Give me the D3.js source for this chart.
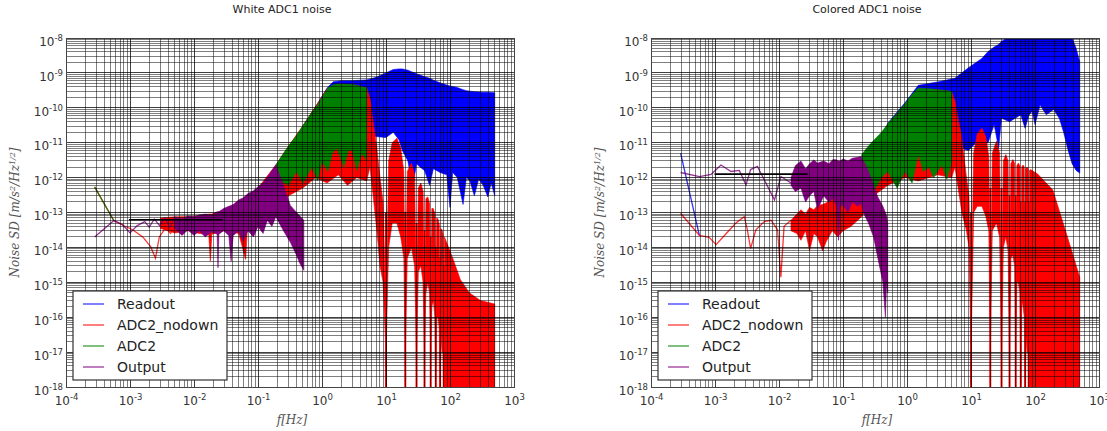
<html>
<head>
<meta charset="utf-8">
<title>ADC1 noise</title>
<style>
body { margin: 0; background: #fff; }
</style>
</head>
<body>
<script src="https://cdn.jsdelivr.net/npm/d3@7"></script>
<script>
var width = 1107, height = 431;

var titles = ["White ADC1 noise", "Colored ADC1 noise"];
var legendNames = ["Readout", "ADC2_nodown", "ADC2", "Output"];
var colors = ["blue", "red", "green", "purple"];
var xTicks = [1e-4, 1e-3, 1e-2, 1e-1, 1e0, 1e1, 1e2, 1e3];
var yTicks = [1e-18, 1e-17, 1e-16, 1e-15, 1e-14, 1e-13, 1e-12, 1e-11, 1e-10, 1e-9, 1e-8];

// ---- White ADC1 noise ----  band rows: [f, upper, lower]
var whiteReadoutBand = [
  [0.5, 3.0e-11, 1.0e-12], [0.8, 1.1e-10, 2.0e-12], [1.2, 3.7e-10, 4.0e-12],
  [1.5, 5.6e-10, 6.0e-12], [2.0, 6.0e-10, 8.0e-12], [3.0, 6.0e-10, 1.0e-11],
  [5.0, 6.3e-10, 1.2e-11], [7.0, 7.5e-10, 1.5e-11], [10, 1.0e-9, 1.4e-11],
  [13, 1.25e-9, 2.0e-11], [16, 1.3e-9, 1.2e-11], [18, 1.3e-9, 6.0e-12],
  [22, 1.2e-9, 3.0e-12], [26, 1.05e-9, 5.0e-13], [30, 9.5e-10, 2.5e-12],
  [34, 8.7e-10, 2.0e-12], [40, 7.8e-10, 1.6e-12], [48, 7.0e-10, 6.0e-13],
  [55, 6.2e-10, 1.8e-12], [70, 5.2e-10, 1.4e-12], [89, 4.5e-10, 1.2e-12],
  [100, 4.2e-10, 1.4e-13], [110, 4.1e-10, 1.4e-12], [130, 3.8e-10, 1.0e-12],
  [160, 3.3e-10, 1.7e-13], [180, 3.1e-10, 1.0e-12], [205, 3.0e-10, 8.0e-13],
  [240, 2.9e-10, 3.0e-13], [280, 2.85e-10, 9.0e-13], [330, 2.8e-10, 6.0e-13],
  [390, 2.8e-10, 2.8e-13], [440, 2.75e-10, 7.0e-13], [500, 2.7e-10, 3.0e-13]
];
var whiteNodownLine = [
  [2.8e-4, 5.4e-13], [5.6e-4, 5.8e-14], [8.2e-4, 4.1e-14], [1.1e-3, 3.2e-14],
  [1.58e-3, 2.0e-14], [2.1e-3, 1.05e-14], [2.5e-3, 4.9e-15], [2.87e-3, 2.0e-14],
  [3.6e-3, 3.6e-14], [4.3e-3, 2.5e-14], [5.2e-3, 4.4e-14]
];
var whiteNodownBand = [
  [3.0e-3, 7.0e-14, 3.5e-14], [5.0e-3, 7.5e-14, 2.6e-14], [8.0e-3, 7.6e-14, 3.0e-14],
  [0.012, 8.0e-14, 2.5e-14], [0.017, 9.0e-14, 2.4e-14], [0.018, 9.0e-14, 4.0e-15],
  [0.019, 9.0e-14, 2.4e-14], [0.03, 1.2e-13, 3.0e-14], [0.05, 2.0e-13, 2.5e-14],
  [0.064, 2.6e-13, 4.5e-15], [0.068, 2.7e-13, 3.0e-14], [0.1, 5.0e-13, 4.0e-14],
  [0.19, 2.3e-12, 8.0e-14], [0.3, 8.0e-12, 3.0e-13], [0.5, 3.0e-11, 5.0e-13],
  [0.8, 1.1e-10, 1.0e-12], [1.2, 3.5e-10, 7.0e-13], [1.8, 4.8e-10, 1.2e-12],
  [2.5, 4.6e-10, 6.0e-13], [3.5, 4.4e-10, 1.0e-12], [5.0, 3.7e-10, 8.0e-13],
  [5.6, 1.9e-10, 2.0e-12], [6.3, 4.0e-11, 3.0e-13], [7.2, 7.0e-12, 3.0e-14],
  [8.05, 1.0e-12, 3.0e-15], [9.0, 2.0e-13, 1.0e-15], [10, 1.0e-16, 1.0e-17],
  [11, 3.0e-12, 1.0e-14], [12.5, 1.0e-11, 5.0e-14], [14.8, 1.35e-11, 5.0e-14],
  [17, 7.0e-12, 2.0e-14], [19, 1.5e-12, 5.0e-15], [20, 1.0e-16, 1.0e-17],
  [21.5, 1.5e-12, 5.0e-15], [25, 2.6e-12, 1.0e-14], [28, 1.2e-12, 3.0e-15],
  [30, 1.0e-16, 1.0e-17], [32, 5.0e-13, 2.0e-15], [35, 7.0e-13, 3.0e-15],
  [38, 4.0e-13, 1.0e-15], [40, 1.0e-16, 1.0e-17], [42, 2.5e-13, 5.0e-16],
  [45, 2.8e-13, 1.0e-15], [48, 1.8e-13, 5.0e-16], [50, 1.0e-16, 1.0e-17],
  [52, 1.3e-13, 2.0e-16], [55, 1.3e-13, 3.0e-16], [58, 9.0e-14, 1.0e-16],
  [60, 1.0e-16, 1.0e-18], [62, 7.0e-14, 1.0e-16], [65, 6.5e-14, 1.0e-16],
  [68, 4.5e-14, 5.0e-17], [70, 1.0e-16, 1.0e-18], [72, 3.5e-14, 3.0e-17],
  [75, 3.2e-14, 1.0e-17], [78, 2.4e-14, 1.0e-17], [80, 1.0e-16, 1.0e-19],
  [82, 2.0e-14, 1.0e-19], [89, 1.35e-14, 1.0e-19], [110, 5.0e-15, 1.0e-19],
  [145, 1.2e-15, 1.0e-19], [200, 5.0e-16, 1.0e-19], [300, 3.0e-16, 1.0e-19],
  [500, 2.4e-16, 1.0e-19]
];
var whiteNodownNulls = [[10, 1e-13], [20, 1e-13], [30, 5e-14], [40, 3e-14], [50, 2e-14], [60, 1e-14], [70, 5e-15], [80, 3e-15]];
var whiteAdc2Line = [[2.8e-4, 5.4e-13], [5.6e-4, 5.8e-14]];
var whiteAdc2Band = [
  [0.19, 2.3e-12, 1.0e-12], [0.3, 8.0e-12, 6.0e-13], [0.4, 1.6e-11, 1.5e-12],
  [0.5, 3.0e-11, 7.0e-13], [0.7, 7.5e-11, 2.0e-12], [0.85, 1.2e-10, 8.0e-13],
  [1.0, 2.0e-10, 3.0e-12], [1.24, 3.7e-10, 1.5e-12], [1.45, 4.4e-10, 5.0e-12],
  [1.7, 4.8e-10, 7.0e-12], [2.2, 4.7e-10, 2.0e-12], [2.6, 4.7e-10, 6.0e-12],
  [3.0, 4.6e-10, 6.0e-12], [3.5, 4.4e-10, 1.6e-12], [4.2, 4.0e-10, 5.0e-12],
  [5.0, 3.7e-10, 3.0e-12]
];
var whiteOutputLine = [
  [2.8e-4, 2.0e-14], [5.6e-4, 5.9e-14], [7.5e-4, 4.6e-14], [1.0e-3, 2.6e-14],
  [1.3e-3, 4.2e-14], [1.7e-3, 5.5e-14], [2.0e-3, 3.8e-14], [2.4e-3, 6.5e-14],
  [2.9e-3, 4.2e-14], [3.5e-3, 7.0e-14], [4.2e-3, 3.8e-14], [5.0e-3, 7.2e-14]
];
var whiteOutputBand = [
  [5.0e-3, 7.5e-14, 3.5e-14], [6.5e-3, 6.5e-14, 2.2e-14], [8.0e-3, 8.0e-14, 3.2e-14],
  [0.01, 7.5e-14, 2.2e-14], [0.012, 8.5e-14, 3.0e-14], [0.015, 9.0e-14, 2.0e-14],
  [0.019, 8.5e-14, 2.8e-14], [0.023, 1.05e-13, 2.4e-14], [0.0237, 1.05e-13, 2.6e-15],
  [0.0245, 1.05e-13, 2.4e-14], [0.029, 1.3e-13, 3.0e-14], [0.035, 1.5e-13, 2.2e-14],
  [0.038, 1.6e-13, 4.0e-15], [0.041, 1.7e-13, 2.2e-14], [0.05, 2.3e-13, 3.0e-14],
  [0.058, 2.6e-13, 1.5e-14], [0.07, 3.5e-13, 3.0e-14], [0.085, 4.2e-13, 2.0e-14],
  [0.1, 5.5e-13, 4.0e-14], [0.12, 7.0e-13, 2.5e-14], [0.14, 1.0e-12, 6.0e-14],
  [0.165, 1.6e-12, 4.0e-14], [0.19, 2.3e-12, 7.6e-14], [0.25, 6.0e-13, 3.0e-14],
  [0.32, 1.6e-13, 1.4e-14], [0.4, 1.0e-13, 6.0e-15], [0.45, 8.0e-14, 3.5e-15],
  [0.52, 6.0e-14, 2.2e-15]
];
var whiteRefLine = [[9.6e-4, 6.2e-14], [0.028, 6.2e-14]];

// ---- Colored ADC1 noise ----
var coloredReadoutLine = [[2.9e-4, 5.0e-12], [5.7e-4, 2.2e-14]];
var coloredReadoutBand = [
  [0.5, 3.6e-11, 1.5e-12], [0.93, 1.4e-10, 2.0e-12], [1.5, 4.4e-10, 4.0e-12],
  [3.0, 5.5e-10, 6.0e-12], [5.6, 7.0e-10, 8.0e-12], [9.1, 1.4e-9, 6.0e-12],
  [12, 2.0e-9, 1.0e-11], [14.8, 2.6e-9, 8.7e-12], [18.5, 4.1e-9, 1.0e-11],
  [23, 5.5e-9, 3.3e-11], [27, 6.5e-9, 7.0e-12], [30, 8.0e-9, 5.0e-11],
  [40, 1.1e-8, 4.0e-11], [60, 1.5e-8, 6.3e-11], [70, 1.5e-8, 2.6e-11],
  [80, 1.6e-8, 6.0e-11], [90, 1.6e-8, 8.0e-11], [100, 1.6e-8, 3.3e-11],
  [120, 1.6e-8, 1.2e-10], [150, 1.6e-8, 6.3e-11], [195, 1.6e-8, 9.0e-11],
  [240, 1.5e-8, 5.0e-11], [280, 1.5e-8, 2.0e-11], [330, 1.3e-8, 6.0e-12],
  [380, 1.0e-8, 2.5e-12], [440, 5.0e-9, 1.6e-12], [500, 2.1e-9, 1.35e-12]
];
var coloredNodownLine = [
  [2.9e-4, 9.5e-14], [5.7e-4, 2.2e-14], [8.1e-4, 1.95e-14], [1.04e-3, 1.2e-14],
  [1.5e-3, 2.5e-14], [2.1e-3, 4.9e-14], [2.87e-3, 7.6e-14], [3.2e-3, 3.2e-14],
  [3.6e-3, 9.3e-15], [4.35e-3, 3.2e-14], [5.9e-3, 5.5e-14], [7.5e-3, 6.0e-14],
  [9.5e-3, 3.2e-14], [0.0107, 1.4e-15], [0.012, 4.0e-14], [0.0154, 6.0e-14]
];
var coloredNodownBand = [
  [0.0154, 6.0e-14, 3.0e-14], [0.019, 9.0e-14, 2.5e-14], [0.022, 1.2e-13, 1.6e-14],
  [0.026, 9.0e-14, 3.0e-14], [0.03, 1.4e-13, 8.0e-15], [0.035, 1.2e-13, 2.5e-14],
  [0.04, 1.6e-13, 2.0e-14], [0.048, 1.7e-13, 8.0e-15], [0.055, 1.9e-13, 1.5e-14],
  [0.068, 2.6e-13, 3.0e-14], [0.083, 3.5e-13, 2.0e-14], [0.1, 4.5e-13, 3.0e-14],
  [0.133, 5.5e-13, 4.0e-14], [0.17, 8.5e-13, 6.0e-14], [0.2, 1.5e-12, 8.0e-14],
  [0.3, 1.0e-11, 3.0e-13], [0.5, 3.0e-11, 6.0e-13], [0.93, 1.2e-10, 1.0e-12],
  [1.5, 3.5e-10, 8.0e-13], [3.0, 3.3e-10, 1.2e-12], [5.0, 2.9e-10, 1.0e-12],
  [5.6, 1.6e-10, 2.0e-12], [6.3, 5.0e-11, 5.0e-13], [7.2, 1.35e-11, 1.0e-13],
  [8.5, 1.0e-12, 3.0e-14], [9.3, 3.0e-13, 1.0e-14], [10, 1.0e-16, 1.0e-17],
  [11, 5.0e-12, 1.0e-13], [12.5, 1.8e-11, 1.5e-13], [14.8, 2.6e-11, 1.5e-13],
  [17, 1.5e-11, 8.0e-14], [19, 4.0e-12, 3.0e-14], [20, 1.0e-16, 1.0e-17],
  [21.5, 5.0e-12, 3.0e-14], [25, 1.1e-11, 5.0e-14], [28, 5.0e-12, 2.0e-14],
  [30, 1.0e-16, 1.0e-17], [32, 3.0e-12, 1.0e-14], [35, 4.6e-12, 2.0e-14],
  [38, 3.0e-12, 8.0e-15], [40, 1.0e-16, 1.0e-17], [42, 2.5e-12, 5.0e-15],
  [45, 3.3e-12, 6.0e-15], [48, 2.6e-12, 3.0e-15], [50, 1.0e-16, 1.0e-17],
  [52, 2.2e-12, 1.0e-15], [55, 2.6e-12, 1.0e-15], [58, 2.2e-12, 5.0e-16],
  [60, 1.0e-16, 1.0e-18], [62, 2.0e-12, 3.0e-16], [65, 2.3e-12, 2.0e-16],
  [68, 2.0e-12, 1.0e-16], [70, 1.0e-16, 1.0e-18], [72, 1.8e-12, 3.0e-17],
  [75, 2.0e-12, 1.0e-17], [78, 1.8e-12, 1.0e-17], [80, 1.0e-16, 1.0e-19],
  [82, 1.6e-12, 1.0e-19], [85, 1.7e-12, 1.0e-19], [110, 1.26e-12, 1.0e-19],
  [190, 4.4e-13, 1.0e-19], [300, 3.0e-14, 1.0e-19], [500, 1.4e-15, 1.0e-19]
];
var coloredNodownNulls = [[10, 1e-13], [20, 5e-13], [30, 5e-13], [40, 3e-13], [50, 3e-13], [60, 2e-13], [70, 2e-13], [80, 2e-13], [90, 2e-13]];
var coloredAdc2Band = [
  [0.196, 4.6e-12, 1.0e-12], [0.25, 8.0e-12, 5.0e-13], [0.3, 1.15e-11, 4.0e-13],
  [0.4, 2.0e-11, 1.0e-12], [0.5, 3.5e-11, 1.5e-12], [0.7, 7.0e-11, 5.0e-13],
  [0.93, 1.3e-10, 1.5e-12], [1.2, 2.4e-10, 7.0e-13], [1.5, 3.7e-10, 4.6e-12],
  [1.8, 3.6e-10, 1.5e-12], [2.2, 3.5e-10, 2.0e-12], [2.6, 3.4e-10, 1.0e-12],
  [3.5, 3.2e-10, 2.3e-12], [4.2, 3.1e-10, 9.0e-13], [5.0, 2.95e-10, 3.0e-12]
];
var coloredOutputLine = [
  [2.9e-4, 1.4e-12], [5.7e-4, 1.07e-12], [8.7e-4, 1.24e-12], [1.24e-3, 2.3e-12],
  [1.78e-3, 1.5e-12], [2.4e-3, 1.6e-12], [3.05e-3, 6.2e-13], [3.6e-3, 1.7e-12],
  [4.6e-3, 2.1e-12], [5.9e-3, 8.5e-13], [8.5e-3, 2.3e-13], [0.0107, 1.07e-12],
  [0.0154, 7.0e-13]
];
var coloredOutputBand = [
  [0.0154, 1.0e-12, 6.0e-13], [0.018, 2.2e-12, 4.0e-13], [0.022, 3.0e-12, 5.0e-13],
  [0.026, 1.8e-12, 2.0e-13], [0.03, 2.5e-12, 3.0e-13], [0.035, 3.2e-12, 4.0e-13],
  [0.04, 2.6e-12, 1.2e-13], [0.05, 3.0e-12, 3.0e-13], [0.06, 2.5e-12, 2.0e-13],
  [0.07, 3.3e-12, 2.5e-13], [0.08, 3.2e-12, 1.5e-13], [0.085, 3.0e-12, 1.6e-14],
  [0.09, 3.0e-12, 1.5e-13], [0.1, 3.4e-12, 1.6e-13], [0.12, 3.0e-12, 1.0e-13],
  [0.14, 3.6e-12, 2.0e-13], [0.17, 3.8e-12, 1.5e-13], [0.19, 4.0e-12, 1.8e-13],
  [0.22, 2.5e-12, 8.0e-14], [0.25, 1.5e-12, 5.0e-14], [0.3, 6.0e-13, 2.0e-14],
  [0.35, 2.8e-13, 5.0e-15], [0.42, 1.5e-13, 1.0e-15], [0.46, 1.0e-13, 1.0e-16],
  [0.48, 8.0e-14, 1.0e-15], [0.5, 5.0e-14, 5.0e-16]
];
var coloredRefLine = [[9.8e-4, 1.26e-12], [0.028, 1.26e-12]];

var panels = [
  { title: titles[0], left: 66, ref: whiteRefLine, series: [
    { color: colors[0], band: whiteReadoutBand },
    { color: colors[1], line: whiteNodownLine, band: whiteNodownBand, nulls: whiteNodownNulls },
    { color: colors[2], line: whiteAdc2Line, band: whiteAdc2Band },
    { color: colors[3], line: whiteOutputLine, band: whiteOutputBand }
  ]},
  { title: titles[1], left: 651, ref: coloredRefLine, series: [
    { color: colors[0], line: coloredReadoutLine, band: coloredReadoutBand },
    { color: colors[1], line: coloredNodownLine, band: coloredNodownBand, nulls: coloredNodownNulls },
    { color: colors[2], band: coloredAdc2Band },
    { color: colors[3], line: coloredOutputLine, band: coloredOutputBand }
  ]}
];

var plotTop = 38, pw = 448, ph = 349;
var svg = d3.select("body").append("svg")
  .attr("width", width).attr("height", height);

panels.forEach(function(p, pi) {
  var g = svg.append("g").attr("transform", "translate(" + p.left + "," + plotTop + ")");
  var x = d3.scaleLog().domain([1e-4, 1e3]).range([0, pw]);
  var y = d3.scaleLog().domain([1e-18, 1e-8]).range([ph, 0]);

  g.append("clipPath").attr("id", "clip" + pi)
    .append("rect").attr("width", pw).attr("height", ph);
  var plot = g.append("g").attr("clip-path", "url(#clip" + pi + ")");

  var area = d3.area().x(function(d) { return x(d[0]); })
    .y0(function(d) { return y(d[2]); }).y1(function(d) { return y(d[1]); });
  var line = d3.line().x(function(d) { return x(d[0]); }).y(function(d) { return y(d[1]); });

  p.series.forEach(function(s) {
    if (s.band) plot.append("path").attr("d", area(s.band))
      .attr("fill", s.color).attr("stroke", s.color).attr("stroke-width", 0.6);
    if (s.nulls) plot.selectAll(null).data(s.nulls).enter().append("line")
      .attr("x1", function(d) { return x(d[0]); }).attr("x2", function(d) { return x(d[0]); })
      .attr("y1", function(d) { return y(d[1]); }).attr("y2", ph)
      .attr("stroke", s.color).attr("stroke-width", 2);
    if (s.line) plot.append("path").attr("d", line(s.line))
      .attr("fill", "none").attr("stroke", s.color)
      .attr("stroke-width", 1.3).attr("stroke-opacity", 0.8);
  });
  plot.append("path").attr("d", line(p.ref))
    .attr("fill", "none").attr("stroke", "#000").attr("stroke-width", 1.6);

  // grid over the data, minor and major
  var grid = g.append("g").attr("shape-rendering", "crispEdges");
  grid.selectAll(".gx").data(x.ticks(100)).enter().append("line")
    .attr("x1", function(d) { return x(d); }).attr("x2", function(d) { return x(d); })
    .attr("y1", 0).attr("y2", ph)
    .attr("stroke", "#000").attr("stroke-opacity", function(d) { return xTicks.indexOf(d) >= 0 ? 0.75 : 0.5; });
  grid.selectAll(".gy").data(y.ticks(100)).enter().append("line")
    .attr("y1", function(d) { return y(d); }).attr("y2", function(d) { return y(d); })
    .attr("x1", 0).attr("x2", pw)
    .attr("stroke", "#000").attr("stroke-opacity", function(d) { return yTicks.indexOf(d) >= 0 ? 0.75 : 0.5; });
  g.append("rect").attr("width", pw).attr("height", ph)
    .attr("fill", "none").attr("stroke", "#444").attr("shape-rendering", "crispEdges");

  // axes with 10^n labels
  var xa = g.append("g").attr("transform", "translate(0," + ph + ")")
    .call(d3.axisBottom(x).tickValues(xTicks).tickSize(0).tickPadding(9.5).tickFormat(""));
  var ya = g.append("g")
    .call(d3.axisLeft(y).tickValues(yTicks).tickSize(0).tickPadding(3).tickFormat(""));
  [xa, ya].forEach(function(a) {
    a.select(".domain").remove();
    a.attr("font-family", "DejaVu Sans").attr("font-size", 12);
    a.selectAll(".tick text").attr("fill", "#333").each(function(d) {
      var t = d3.select(this);
      t.text("10");
      t.append("tspan").attr("dy", -5).attr("font-size", 8.5).text(Math.round(Math.log10(d)));
    });
  });
  ya.selectAll(".tick text").attr("dy", "0.6em");

  g.append("text").attr("x", pw / 2 - 8).attr("y", -25)
    .attr("text-anchor", "middle").attr("font-family", "DejaVu Sans")
    .attr("font-size", 11).attr("fill", "#222").text(p.title);

  g.append("text").attr("x", pw / 2 + 2).attr("y", ph + 37)
    .attr("text-anchor", "middle").attr("font-family", "DejaVu Serif")
    .attr("font-style", "italic").attr("font-size", 12).attr("fill", "#555")
    .text("f[Hz]");

  var yl = g.append("text")
    .attr("transform", "translate(-47," + (ph / 2) + ") rotate(-90)")
    .attr("text-anchor", "middle").attr("font-family", "DejaVu Serif")
    .attr("font-style", "italic").attr("font-size", 12).attr("fill", "#555");
  yl.append("tspan").text("Noise SD [m/s");
  yl.append("tspan").attr("dy", -4).attr("font-size", 8).text("2");
  yl.append("tspan").attr("dy", 4).text("/Hz");
  yl.append("tspan").attr("dy", -4).attr("font-size", 8).text("1/2");
  yl.append("tspan").attr("dy", 4).text("]");

  // legend
  var lg = g.append("g").attr("transform", "translate(7," + (ph - 96) + ")");
  lg.append("rect").attr("width", 154).attr("height", 89)
    .attr("fill", "#fff").attr("stroke", "#333").attr("stroke-width", 1.2);
  var rows = lg.selectAll(".row").data(legendNames).enter().append("g")
    .attr("transform", function(d, i) { return "translate(0," + (13 + i * 21) + ")"; });
  rows.append("line").attr("x1", 10).attr("x2", 31)
    .attr("stroke", function(d, i) { return colors[i]; })
    .attr("stroke-opacity", 0.5).attr("stroke-width", 2);
  rows.append("text").attr("x", 44).attr("y", 5)
    .attr("font-family", "DejaVu Sans").attr("font-size", 14).attr("fill", "#222")
    .text(function(d) { return d; });
});
</script>
</body>
</html>
